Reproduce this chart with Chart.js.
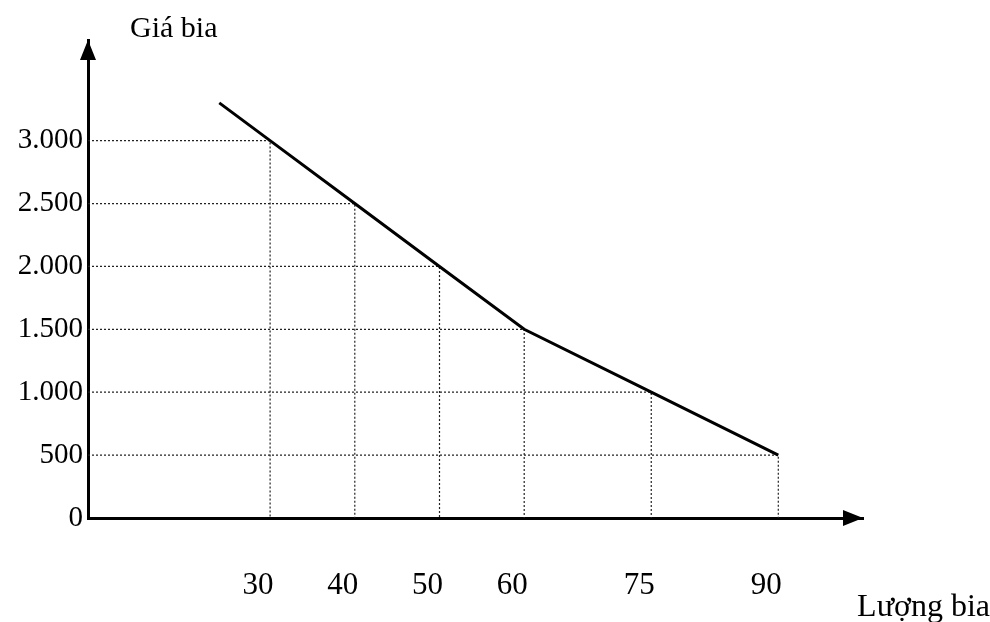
<!DOCTYPE html>
<html lang="vi">
<head>
<meta charset="UTF-8"/>
<title>Giá bia - Lượng bia</title>
<script src="https://cdn.jsdelivr.net/npm/chart.js@4.4.0/dist/chart.umd.min.js"></script>
<style>
  html, body { margin: 0; padding: 0; background: #fff; }
  canvas { display: block; }
</style>
</head>
<body>
<canvas id="chart" width="990" height="622"></canvas>
<script>
// demand curve
const quantity = [24, 30, 40, 50, 60, 75, 90];
const price = [3300, 3000, 2500, 2000, 1500, 1000, 500];

const xTicks = [30, 40, 50, 60, 75, 90];
const yTicks = [0, 500, 1000, 1500, 2000, 2500, 3000];
const yTickLabels = ['0', '500', '1.000', '1.500', '2.000', '2.500', '3.000'];

const yTitle = 'Giá bia';
const xTitle = 'Lượng bia';

const serif = '"Liberation Serif", "DejaVu Serif", serif';

// dotted lines from each marked point back to both axes
const dropLines = {
  id: 'dropLines',
  beforeDatasetsDraw(chart) {
    const {ctx, chartArea, scales: {x, y}} = chart;
    ctx.save();
    ctx.strokeStyle = '#222';
    ctx.lineWidth = 1.2;
    ctx.setLineDash([2, 2]);
    quantity.forEach((q, i) => {
      if (!xTicks.includes(q)) return;
      const px = x.getPixelForValue(q);
      const py = y.getPixelForValue(price[i]);
      ctx.beginPath();
      ctx.moveTo(chartArea.left, py);
      ctx.lineTo(px, py);
      ctx.lineTo(px, chartArea.bottom);
      ctx.stroke();
    });
    ctx.restore();
  }
};

// arrow heads and axis names
const axisDecor = {
  id: 'axisDecor',
  afterDraw(chart) {
    const {ctx, chartArea: {left, right, top, bottom}} = chart;
    ctx.save();
    ctx.fillStyle = '#000';
    ctx.beginPath();
    ctx.moveTo(left, top);
    ctx.lineTo(left - 8, top + 20);
    ctx.lineTo(left + 8, top + 20);
    ctx.closePath();
    ctx.fill();
    ctx.beginPath();
    ctx.moveTo(right, bottom);
    ctx.lineTo(right - 20, bottom - 8);
    ctx.lineTo(right - 20, bottom + 8);
    ctx.closePath();
    ctx.fill();

    ctx.font = '30px ' + serif;
    ctx.textBaseline = 'alphabetic';
    ctx.textAlign = 'left';
    ctx.fillText(yTitle, left + 42, top - 3);
    ctx.font = '32px ' + serif;
    ctx.textAlign = 'right';
    ctx.fillText(xTitle, 990, bottom + 98);
    ctx.restore();
  }
};

const ctx = document.getElementById('chart').getContext('2d');
new Chart(ctx, {
  type: 'line',
  data: {
    datasets: [{
      data: quantity.map((q, i) => ({x: q, y: price[i]})),
      borderColor: '#000',
      borderWidth: 3,
      pointRadius: 0,
      tension: 0
    }]
  },
  options: {
    responsive: false,
    animation: false,
    devicePixelRatio: 1,
    layout: {padding: {top: 40, right: 127, left: 0, bottom: 0}},
    plugins: {legend: {display: false}, tooltip: {enabled: false}},
    scales: {
      x: {
        type: 'linear',
        min: 8.5,
        max: 100,
        afterBuildTicks: scale => { scale.ticks = xTicks.map(v => ({value: v})); },
        afterFit: scale => { scale.height = 104; },
        grid: {display: false, drawTicks: false},
        border: {display: true, color: '#000', width: 3},
        ticks: {
          padding: 49,
          labelOffset: -12,
          color: '#000',
          font: {family: serif, size: 31},
          maxRotation: 0
        }
      },
      y: {
        type: 'linear',
        min: 0,
        max: 3800,
        afterBuildTicks: scale => { scale.ticks = yTicks.map(v => ({value: v})); },
        afterFit: scale => { scale.width = 88; },
        grid: {display: false, drawTicks: false},
        border: {display: true, color: '#000', width: 3},
        ticks: {
          padding: 5,
          color: '#000',
          font: {family: serif, size: 29},
          callback: (v, i) => yTickLabels[yTicks.indexOf(v)]
        }
      }
    }
  },
  plugins: [dropLines, axisDecor]
});
</script>
</body>
</html>
